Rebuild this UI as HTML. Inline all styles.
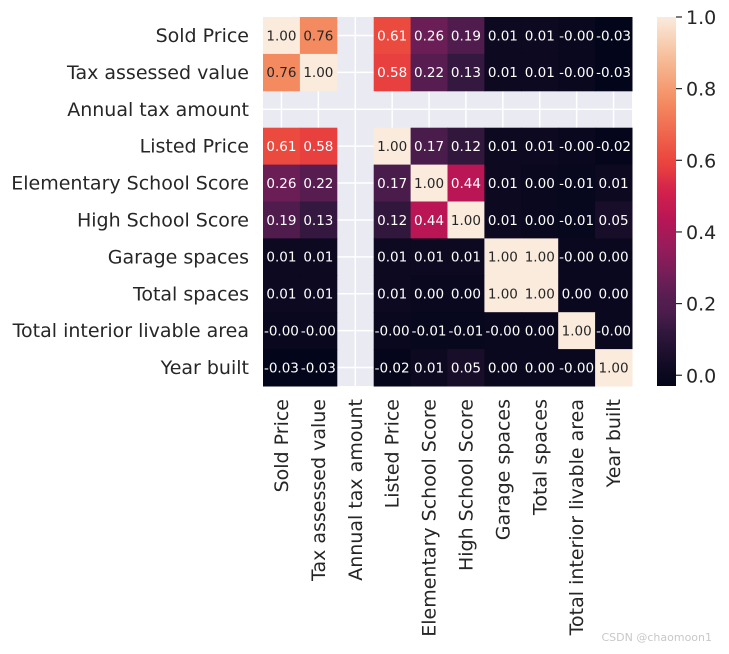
<!DOCTYPE html>
<html><head><meta charset="utf-8"><style>
body{margin:0;background:#fff;}
svg text{font-family:"DejaVu Sans","Liberation Sans",sans-serif;fill:#262626;}
</style></head><body>
<svg id="chart" width="729" height="649" xmlns="http://www.w3.org/2000/svg"></svg>
<script>
const labels=["Sold Price","Tax assessed value","Annual tax amount","Listed Price","Elementary School Score","High School Score","Garage spaces","Total spaces","Total interior livable area","Year built"];
const values=[
[1.00,0.76,null,0.61,0.26,0.19,0.01,0.01,-0.00,-0.03],
[0.76,1.00,null,0.58,0.22,0.13,0.01,0.01,-0.00,-0.03],
[null,null,null,null,null,null,null,null,null,null],
[0.61,0.58,null,1.00,0.17,0.12,0.01,0.01,-0.00,-0.02],
[0.26,0.22,null,0.17,1.00,0.44,0.01,0.00,-0.01,0.01],
[0.19,0.13,null,0.12,0.44,1.00,0.01,0.00,-0.01,0.05],
[0.01,0.01,null,0.01,0.01,0.01,1.00,1.00,-0.00,0.00],
[0.01,0.01,null,0.01,0.00,0.00,1.00,1.00,0.00,0.00],
[-0.00,-0.00,null,-0.00,-0.01,-0.01,-0.00,0.00,1.00,-0.00],
[-0.03,-0.03,null,-0.02,0.01,0.05,0.00,0.00,-0.00,1.00]];
const cbTicks=[0.0,0.2,0.4,0.6,0.8,1.0];
const vmin=-0.03,vmax=1.0;

const NS="http://www.w3.org/2000/svg";
const svg=document.getElementById('chart');
const X0=263,Y0=17,W=369,H=369,n=labels.length,cw=W/n,ch=H/n;
const stops=[[0,[3,5,26]],[0.04,[12,9,32]],[0.155,[53,24,63]],[0.194,[74,28,75]],[0.243,[87,29,81]],[0.282,[107,30,86]],[0.37,[148,28,91]],[0.456,[186,22,86]],[0.53,[212,34,75]],[0.592,[232,63,63]],[0.621,[235,74,63]],[0.767,[244,139,96]],[0.88,[246,185,148]],[1,[250,235,221]]];
function cmap(v){let t=(v-vmin)/(vmax-vmin);t=Math.max(0,Math.min(1,t));
 for(let i=1;i<stops.length;i++){if(t<=stops[i][0]){const a=stops[i-1],b=stops[i],f=(t-a[0])/(b[0]-a[0]);
  return 'rgb('+a[1].map((c,k)=>Math.round(c+(b[1][k]-c)*f)).join(',')+')';}}return 'rgb(250,235,221)';}
function lum(v){let t=(v-vmin)/(vmax-vmin);return t>0.75;}
function fmt(v){const s=Math.abs(v).toFixed(2);return (v<0||Object.is(v,-0))?'-'+s:s;}
function el(tag,attrs){const e=document.createElementNS(NS,tag);for(const k in attrs)e.setAttribute(k,attrs[k]);svg.appendChild(e);return e;}
const xS=i=>X0+i*cw, yS=j=>Y0+j*ch;
const bg=el('rect',{x:X0,y:Y0,width:W,height:H,fill:'#EAEAF2'});


for(let i=0;i<n;i++){
 const gv=el('line',{x1:xS(i)+cw/2,x2:xS(i)+cw/2,y1:Y0,y2:Y0+H,stroke:'#fff','stroke-width':1.5});
 
 
 const gh=el('line',{y1:yS(i)+ch/2,y2:yS(i)+ch/2,x1:X0,x2:X0+W,stroke:'#fff','stroke-width':1.5});
 
 
}
for(let r=0;r<n;r++)for(let c=0;c<n;c++){const v=values[r][c];if(v===null)continue;
 const rc=el('rect',{x:xS(c),y:yS(r),width:cw+0.5,height:ch+0.5,fill:cmap(v)});
 
 
 const t=el('text',{x:xS(c)+cw/2,y:yS(r)+ch/2+4.8,'text-anchor':'middle','font-size':'13.5'});
 
 
 t.style.fill=lum(v)?'#262626':'#fff';
 t.textContent=fmt(v);
}
for(let i=0;i<n;i++){
 const ty=el('text',{x:249,y:yS(i)+ch/2+6.5,'text-anchor':'end','font-size':'19'});
 
 
 ty.textContent=labels[i];
 const cx=xS(i)+cw/2+6.5;
 const tx=el('text',{x:cx,y:399,'text-anchor':'end','font-size':'19',transform:'rotate(-90 '+cx+' 399)'});
 
 
 tx.textContent=labels[i];
}
const CX=657,CW=19,CT=17,CB=386;
const cy=v=>CB-(v-vmin)/(vmax-vmin)*(CB-CT);
const defs=el('defs',{});
const lg=document.createElementNS(NS,'linearGradient');lg.setAttribute('id','cg');lg.setAttribute('x1','0');lg.setAttribute('y1','1');lg.setAttribute('x2','0');lg.setAttribute('y2','0');defs.appendChild(lg);
for(let k=0;k<=40;k++){const s=document.createElementNS(NS,'stop');s.setAttribute('offset',k/40);s.setAttribute('stop-color',cmap(vmin+(vmax-vmin)*k/40));lg.appendChild(s);}
const cb=el('rect',{x:CX,y:CT,width:CW,height:CB-CT,fill:'url(#cg)'});


cbTicks.forEach(v=>{
 const tk=el('line',{x1:CX+CW,x2:CX+CW+6,y1:cy(v),y2:cy(v),stroke:'#262626','stroke-width':1.2});
 
 
 const tl=el('text',{x:CX+CW+10,y:cy(v)+7,'font-size':'19'});
 
 
 tl.textContent=v.toFixed(1);
});
const wm=el('text',{x:712,y:641,'text-anchor':'end','font-size':'11'});


wm.style.fill='#c8c8c8';
wm.textContent='CSDN @chaomoon1';
</script>
</body></html>
